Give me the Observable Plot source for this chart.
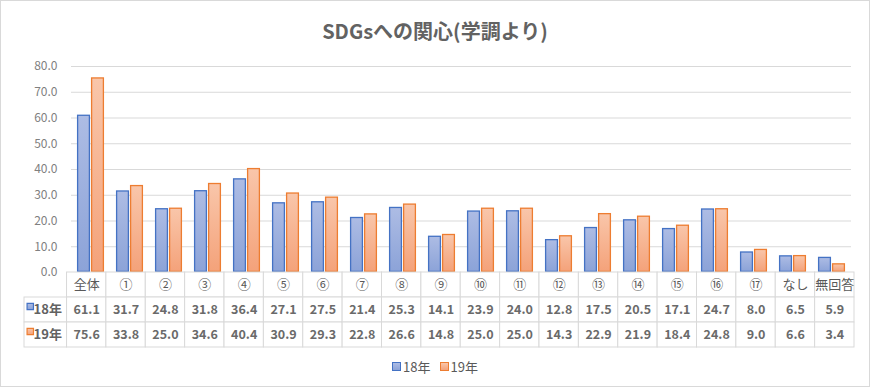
<!DOCTYPE html>
<html>
<head>
<meta charset="utf-8">
<script src="https://cdn.jsdelivr.net/npm/d3@7"></script>
<script src="https://cdn.jsdelivr.net/npm/@observablehq/plot@0.6"></script>
<style>
  body { margin: 0; background: #fff; font-family: "Noto Sans CJK JP", "Noto Sans", sans-serif; }
  #frame { position: absolute; left: 0; top: 0; width: 868px; height: 385px; border: 1px solid #d9d9d9; }
  #title { position: absolute; left: 0; top: 16px; width: 870px; text-align: center; font-size: 20px; font-weight: bold; color: #626262; }
  #chart, #table { position: absolute; left: 0; }
  #chart { top: 0; }
  #table { top: 271px; }
  #legend { position: absolute; left: 0; top: 357px; width: 870px; display: flex; justify-content: center; gap: 9px; font-size: 13px; color: #595959; }
  #legend span.sw { display: inline-block; width: 7px; height: 7px; margin-right: 2px; vertical-align: 1px; }
</style>
</head>
<body>
<div id="frame"></div>
<div id="title">SDGsへの関心(学調より)</div>
<div id="chart"></div>
<div id="table"></div>
<div id="legend"></div>
<script>
const categories = ["全体","①","②","③","④","⑤","⑥","⑦","⑧","⑨","⑩","⑪","⑫","⑬","⑭","⑮","⑯","⑰","なし","無回答"];
const seriesNames = ["18年","19年"];
const values18 = [61.1,31.7,24.8,31.8,36.4,27.1,27.5,21.4,25.3,14.1,23.9,24.0,12.8,17.5,20.5,17.1,24.7,8.0,6.5,5.9];
const values19 = [75.6,33.8,25.0,34.6,40.4,30.9,29.3,22.8,26.6,14.8,25.0,25.0,14.3,22.9,21.9,18.4,24.8,9.0,6.6,3.4];
const yTicks = [0,10,20,30,40,50,60,70,80];

const strokeColors = {"18年": "#4472c4", "19年": "#ed7d31"};

const barData = [];
categories.forEach((c, i) => {
  barData.push({cat: c, series: "18年", value: values18[i]});
  barData.push({cat: c, series: "19年", value: values19[i]});
});

const font = "'Noto Sans CJK JP', 'Noto Sans', sans-serif";

const chart = Plot.plot({
  width: 870,
  height: 285,
  marginTop: 66,
  marginBottom: 13,
  marginLeft: 67,
  marginRight: 16,
  style: {background: "transparent", overflow: "visible", color: "#808080", fontSize: "12px", fontFamily: font},
  fx: {domain: categories, padding: 0, axis: null},
  x: {domain: seriesNames, paddingInner: 0.1, paddingOuter: 0.37, axis: null},
  y: {domain: [0, 80], ticks: yTicks, tickFormat: d => d.toFixed(1), tickSize: 0, tickPadding: 14, label: null},
  marks: [
    Plot.ruleY(yTicks.filter(t => t > 0), {stroke: "#d9d9d9", strokeWidth: 1}),
    Plot.barY(barData.filter(d => d.series === "18年"), {fx: "cat", x: "series", y: "value", fill: "url(#gBlue)", stroke: "#4472c4", strokeWidth: 1.3, inset: 0.6}),
    Plot.barY(barData.filter(d => d.series === "19年"), {fx: "cat", x: "series", y: "value", fill: "url(#gOrange)", stroke: "#ed7d31", strokeWidth: 1.3, inset: 0.6})
  ]
});
const ns = "http://www.w3.org/2000/svg";
function addDefs(svg) {
  const defs = document.createElementNS(ns, "defs");
  defs.innerHTML = `
    <linearGradient id="gBlue" x1="0" y1="0" x2="0" y2="1">
      <stop offset="0" stop-color="#adbce4"/><stop offset="1" stop-color="#8ca3d8"/>
    </linearGradient>
    <linearGradient id="gOrange" x1="0" y1="0" x2="0" y2="1">
      <stop offset="0" stop-color="#f9c6aa"/><stop offset="1" stop-color="#f4a27a"/>
    </linearGradient>`;
  svg.insertBefore(defs, svg.firstChild);
}
addDefs(chart);
document.getElementById("chart").appendChild(chart);

// table
const rows = ["cat", "18年", "19年"];
const cells = [];
categories.forEach((c, i) => {
  cells.push({i, row: "cat", label: c});
  cells.push({i, row: "18年", label: values18[i].toFixed(1)});
  cells.push({i, row: "19年", label: values19[i].toFixed(1)});
});
const headers = seriesNames.map(s => ({row: s, label: s}));
const hdrLeft = -1.08;

const table = Plot.plot({
  width: 870,
  height: 77,
  marginTop: 1,
  marginBottom: 1,
  marginLeft: 24,
  marginRight: 16,
  style: {background: "transparent", overflow: "visible", color: "#595959", fontFamily: font},
  x: {domain: [hdrLeft, categories.length], axis: null},
  y: {domain: rows, padding: 0, axis: null},
  marks: [
    Plot.barX(cells, {x1: "i", x2: d => d.i + 1, y: "row", fill: "white", stroke: "#d9d9d9", strokeWidth: 1, inset: 0}),
    Plot.barX(headers, {x1: hdrLeft, x2: 0, y: "row", fill: "white", stroke: "#d9d9d9", strokeWidth: 1, inset: 0}),
    Plot.text(cells.filter(d => d.row === "cat"), {x: d => d.i + 0.5, y: "row", text: "label", fontSize: 13, fill: "#595959"}),
    Plot.text(cells.filter(d => d.row !== "cat"), {x: d => d.i + 0.5, y: "row", text: "label", fontSize: 12.5, fontWeight: "bold", fill: "#6a6a6a"}),
    Plot.text(headers, {x: hdrLeft / 2, y: "row", text: "label", fontSize: 13, fontWeight: "bold", fill: "#626262", dx: 2}),
    Plot.dot(headers, {x: hdrLeft / 2, y: "row", symbol: "square", r: 3.6, dx: -15.5, dy: -3.5, fill: d => d.row === "18年" ? "url(#gBlue)" : "url(#gOrange)", stroke: d => strokeColors[d.row], strokeWidth: 1.2})
  ]
});
addDefs(table);
document.getElementById("table").appendChild(table);

// legend
const legend = document.getElementById("legend");
seriesNames.forEach(s => {
  const item = document.createElement("div");
  const sw = document.createElement("span");
  sw.className = "sw";
  sw.style.background = s === "18年" ? "linear-gradient(#adbce4,#8ca3d8)" : "linear-gradient(#f9c6aa,#f4a27a)";
  sw.style.border = "1px solid " + strokeColors[s];
  item.appendChild(sw);
  item.appendChild(document.createTextNode(s));
  legend.appendChild(item);
});
</script>
</body>
</html>
